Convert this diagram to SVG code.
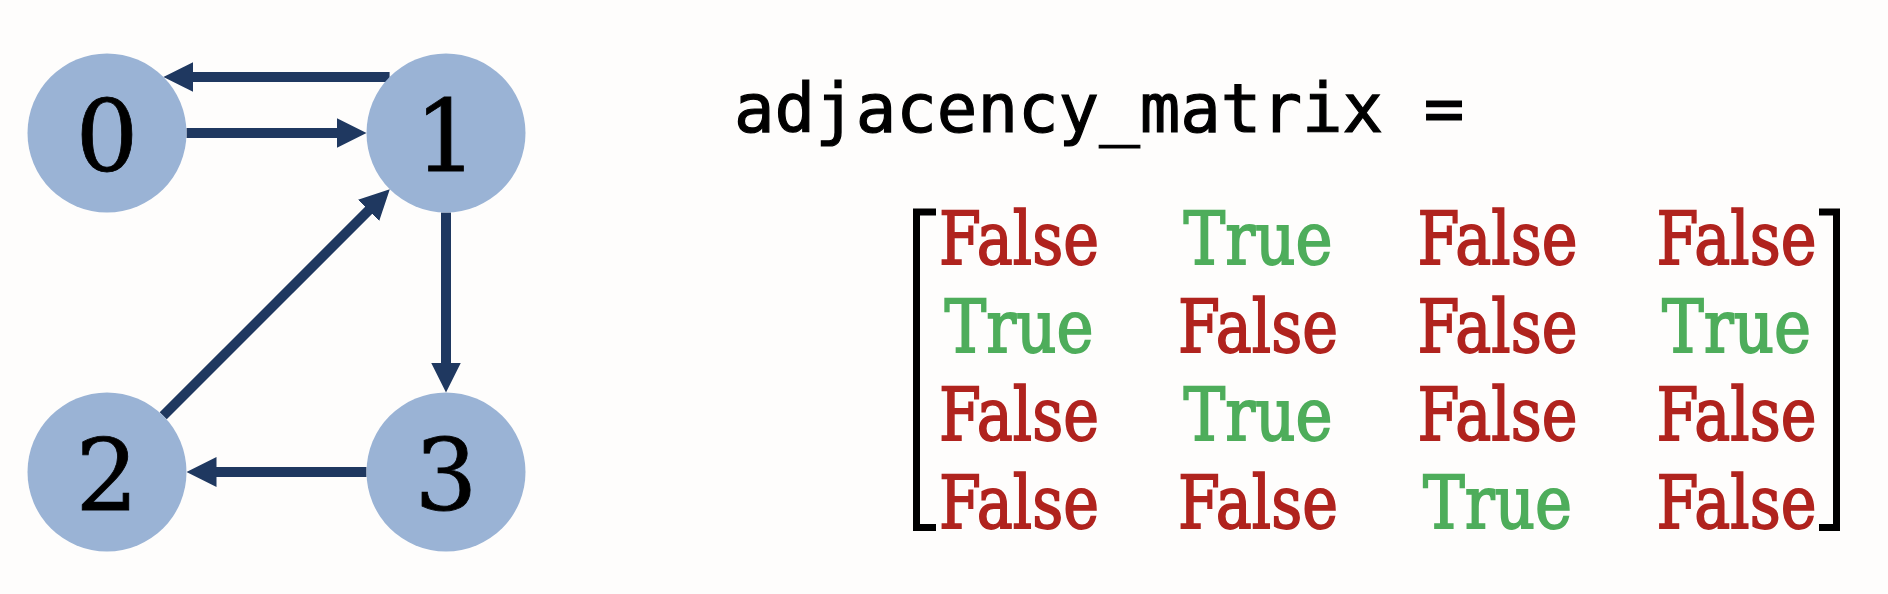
<svg xmlns="http://www.w3.org/2000/svg" width="1888" height="594" viewBox="0 0 1888 594">
  <style>
    .node circle { fill: #9AB3D5; }
    .node text { font-family: "DejaVu Serif", "Liberation Serif", serif; font-size: 99px; fill: #000; stroke: #000; stroke-width: 0.8; text-anchor: middle; }
    .edge { stroke: #1F3860; stroke-width: 10; fill: none; }
    .title { font-family: "DejaVu Sans Mono", "Liberation Mono", monospace; font-size: 67.4px; fill: #000; stroke: #000; stroke-width: 1.2; }
    .cell { font-family: "DejaVu Serif", "Liberation Serif", serif; font-size: 73px; text-anchor: middle; stroke-width: 1.8; }
    .f { fill: #B0231E; stroke: #B0231E; }
    .t { fill: #4EAD5B; stroke: #4EAD5B; }
    .bracket { stroke: #000; stroke-width: 7; fill: none; }
  </style>
  <defs>
    <marker id="arrow" viewBox="0 0 30 30" refX="2" refY="15" markerWidth="30" markerHeight="30" markerUnits="userSpaceOnUse" orient="auto">
      <path d="M0,0 L30,15 L0,30 z" fill="#1F3860"/>
    </marker>
  </defs>
  <rect x="0" y="0" width="1888" height="594" fill="#FEFDFC"/>

  <g id="connectors">
    <line class="edge" x1="389.6" y1="77" x2="191.4" y2="77" marker-end="url(#arrow)"/>
    <line class="edge" x1="186.5" y1="133" x2="338.5" y2="133" marker-end="url(#arrow)"/>
    <line class="edge" x1="446" y1="212.5" x2="446" y2="364.5" marker-end="url(#arrow)"/>
    <line class="edge" x1="366.5" y1="472" x2="214.5" y2="472" marker-end="url(#arrow)"/>
    <line class="edge" x1="163.2" y1="415.8" x2="370" y2="209" marker-end="url(#arrow)"/>
  </g>

  <g id="node0" class="node">
    <circle cx="107" cy="133" r="79.5"/>
    <text x="107" y="171">0</text>
  </g>
  <g id="node1" class="node">
    <circle cx="446" cy="133" r="79.5"/>
    <text x="446" y="171">1</text>
  </g>
  <g id="node2" class="node">
    <circle cx="107" cy="472" r="79.5"/>
    <text x="107" y="510">2</text>
  </g>
  <g id="node3" class="node">
    <circle cx="446" cy="472" r="79.5"/>
    <text x="446" y="510">3</text>
  </g>

  <g id="title">
    <text class="title" x="734" y="132">adjacency_matrix =</text>
  </g>

  <g id="matrix">
    <path class="bracket" d="M936,212 H916.5 V527.5 H936"/>
    <path class="bracket" d="M1819,212 H1836.5 V527.5 H1819"/>
    <text class="cell f" x="1019" y="264" textLength="160" lengthAdjust="spacingAndGlyphs">False</text>
    <text class="cell t" x="1258" y="264" textLength="149" lengthAdjust="spacingAndGlyphs">True</text>
    <text class="cell f" x="1497.5" y="264" textLength="160" lengthAdjust="spacingAndGlyphs">False</text>
    <text class="cell f" x="1736.5" y="264" textLength="160" lengthAdjust="spacingAndGlyphs">False</text>

    <text class="cell t" x="1019" y="352" textLength="149" lengthAdjust="spacingAndGlyphs">True</text>
    <text class="cell f" x="1258" y="352" textLength="160" lengthAdjust="spacingAndGlyphs">False</text>
    <text class="cell f" x="1497.5" y="352" textLength="160" lengthAdjust="spacingAndGlyphs">False</text>
    <text class="cell t" x="1736.5" y="352" textLength="149" lengthAdjust="spacingAndGlyphs">True</text>

    <text class="cell f" x="1019" y="440" textLength="160" lengthAdjust="spacingAndGlyphs">False</text>
    <text class="cell t" x="1258" y="440" textLength="149" lengthAdjust="spacingAndGlyphs">True</text>
    <text class="cell f" x="1497.5" y="440" textLength="160" lengthAdjust="spacingAndGlyphs">False</text>
    <text class="cell f" x="1736.5" y="440" textLength="160" lengthAdjust="spacingAndGlyphs">False</text>

    <text class="cell f" x="1019" y="528" textLength="160" lengthAdjust="spacingAndGlyphs">False</text>
    <text class="cell f" x="1258" y="528" textLength="160" lengthAdjust="spacingAndGlyphs">False</text>
    <text class="cell t" x="1497.5" y="528" textLength="149" lengthAdjust="spacingAndGlyphs">True</text>
    <text class="cell f" x="1736.5" y="528" textLength="160" lengthAdjust="spacingAndGlyphs">False</text>
  </g>
</svg>
